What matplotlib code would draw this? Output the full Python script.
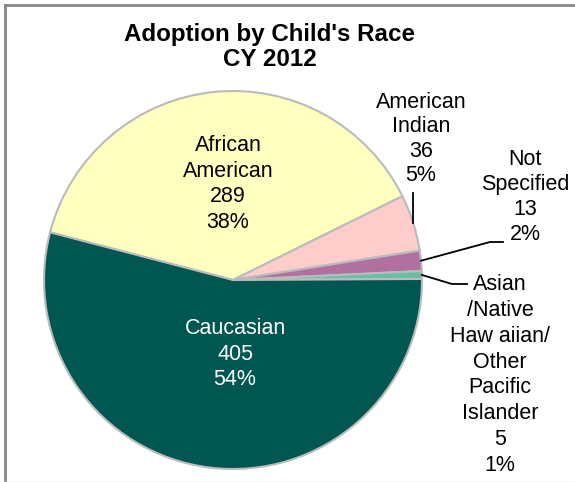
import matplotlib.pyplot as plt
from matplotlib.lines import Line2D
import numpy as np

plt.rcParams['font.family'] = ['Liberation Sans', 'DejaVu Sans']

# dados do grafico
categorias = ['African\nAmerican', 'American\nIndian', 'Not\nSpecified',
              'Asian\n/Native\nHaw aiian/\nOther\nPacific\nIslander', 'Caucasian']
valores = [289, 36, 13, 5, 405]
percentuais = ['38%', '5%', '2%', '1%', '54%']
cores = ['#FFFFC0', '#FFCCCC', '#B070A0', '#66C0A8', '#005650']

W, H = 575, 482
cx, cy, R = 233, 280, 189  # centro e raio em pixels


def px(x, y):
    # pixel -> coordenada do eixo (raio 1)
    return (x - cx) / R, (cy - y) / R


fig = plt.figure(figsize=(W / 100, H / 100), dpi=100)
ax = fig.add_axes([0, 0, 1, 1])

wedges, _ = ax.pie(valores, colors=cores, startangle=165.4, counterclock=False,
                   radius=1.0, wedgeprops=dict(edgecolor='#BBBBBB', linewidth=1.5))
ax.set_aspect('auto')
ax.set_xlim(-cx / R, (W - cx) / R)
ax.set_ylim((cy - H) / R, cy / R)
ax.axis('off')

rotulos = [f'{c}\n{v}\n{p}' for c, v, p in zip(categorias, valores, percentuais)]

# posicoes dos rotulos (pixels) e cor do texto
pos = [(228, 184), (421, 139), (525, 197), (500, 375), (235, 354)]
esp = [1.3, 1.2, 1.25, 1.31, 1.3]
cor_txt = ['black', 'black', 'black', 'black', 'white']
for r, (x, y), c, e in zip(rotulos, pos, cor_txt, esp):
    ax.text(*px(x, y), r, ha='center', va='center', fontsize=15.5, color=c,
            linespacing=e)

# linhas de chamada, saindo do meio de cada fatia
def meio(w):
    a = np.deg2rad((w.theta1 + w.theta2) / 2)
    return np.cos(a), np.sin(a)

x0, y0 = meio(wedges[1])
ax.add_line(Line2D([x0, x0], [y0, px(0, 193)[1]], color='black', lw=1.3))
x0, y0 = meio(wedges[2])
ax.add_line(Line2D([x0, px(490, 0)[0], px(503, 0)[0]],
                   [y0, px(0, 242)[1], px(0, 242)[1]], color='black', lw=1.3))
x0, y0 = meio(wedges[3])
ax.add_line(Line2D([x0, px(452, 0)[0], px(467, 0)[0]],
                   [y0, px(0, 284)[1], px(0, 284)[1]], color='black', lw=1.3))

fig.text(270 / W, 1 - 47 / H, "Adoption by Child's Race\nCY 2012", ha='center',
         va='center', fontsize=17.4, fontweight='bold', linespacing=1.1)

# moldura
fig.add_artist(Line2D([4.5 / W, 4.5 / W], [0, 1 - 4.5 / H], color='#888888', lw=2,
                      transform=fig.transFigure))
fig.add_artist(Line2D([4.5 / W, 1], [1 - 4.5 / H, 1 - 4.5 / H], color='#888888', lw=2,
                      transform=fig.transFigure))
fig.add_artist(Line2D([0, 1], [0.5 / H, 0.5 / H], color='#DDDDDD', lw=1,
                      transform=fig.transFigure))

fig.savefig('out.png', dpi=100)
